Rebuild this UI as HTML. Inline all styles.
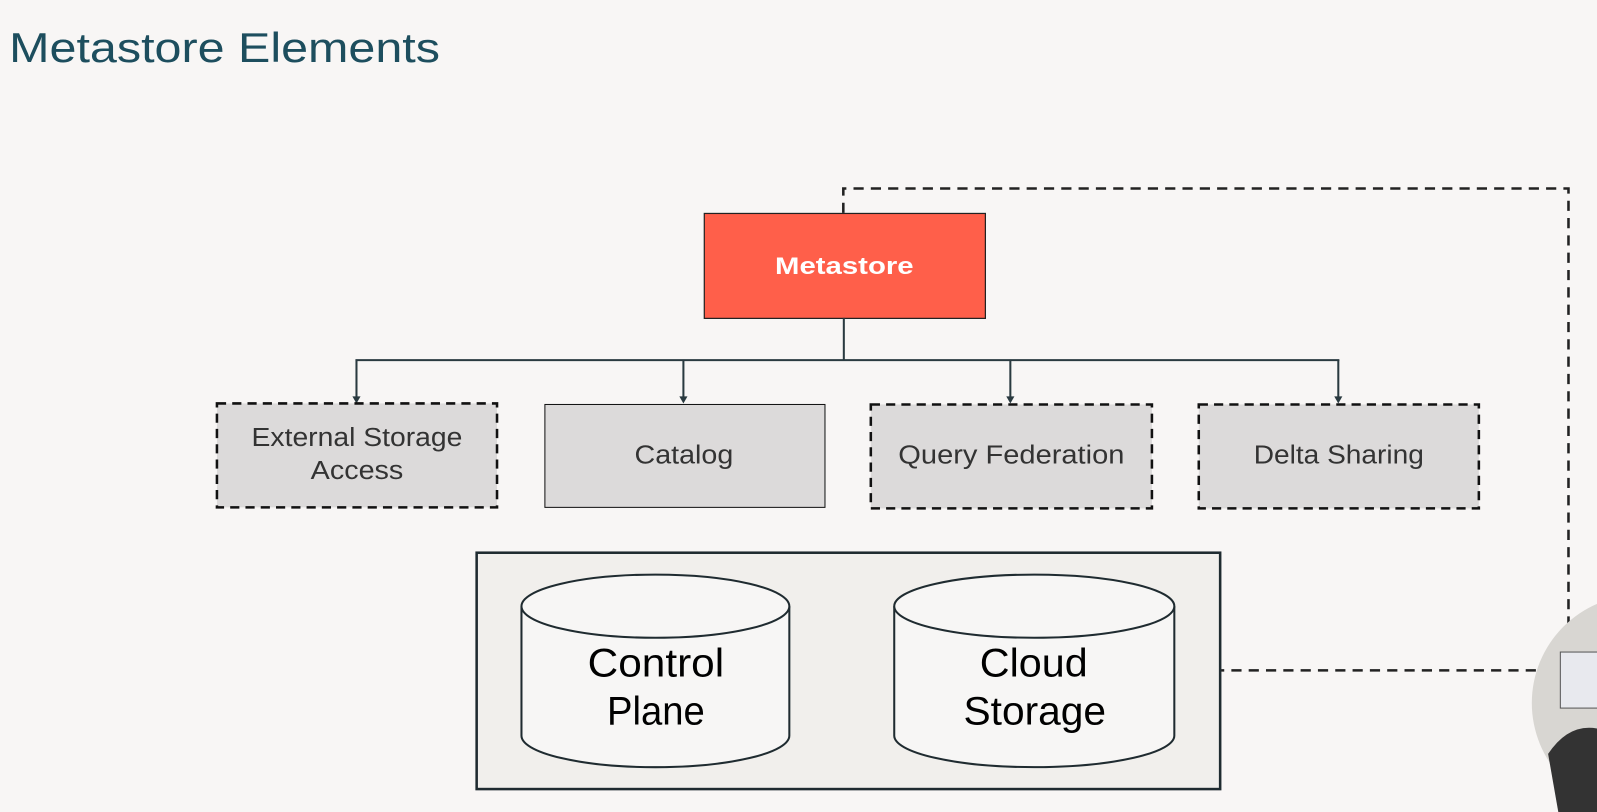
<!DOCTYPE html>
<html><head><meta charset="utf-8"><style>
html,body{margin:0;padding:0;background:#f8f6f5;}
svg{display:block}
</style></head><body>
<svg width="1597" height="812" viewBox="0 0 1568 797" preserveAspectRatio="none" xmlns="http://www.w3.org/2000/svg" font-family="'Liberation Sans', sans-serif">
<rect width="1568" height="797" fill="#f8f6f5"/>
<text x="9" y="61" font-size="41" fill="#1d4e5e" textLength="423" lengthAdjust="spacingAndGlyphs">Metastore Elements</text>
<polyline points="828,209 828,185 1540,185 1540,658 1199,658" fill="none" stroke="#222" stroke-width="2.5" stroke-dasharray="10,7"/>
<rect x="691.5" y="209.5" width="276" height="103" fill="#ff5f4a" stroke="#222" stroke-width="1.2"/>
<text x="761" y="269" font-size="24" font-weight="bold" fill="#fff" textLength="136" lengthAdjust="spacingAndGlyphs">Metastore</text>
<g stroke="#2a3a40" stroke-width="2" fill="none">
<line x1="828.5" y1="312" x2="828.5" y2="353.5"/>
<line x1="349" y1="353.5" x2="1315" y2="353.5"/>
<line x1="350" y1="353" x2="350" y2="390"/>
<line x1="671" y1="353" x2="671" y2="390"/>
<line x1="992" y1="353" x2="992" y2="390"/>
<line x1="1314" y1="353" x2="1314" y2="390"/>
</g>
<g fill="#2a3a40">
<polygon points="346,389 354,389 350,396"/>
<polygon points="667,389 675,389 671,396"/>
<polygon points="988,389 996,389 992,396"/>
<polygon points="1310,389 1318,389 1314,396"/>
</g>
<g fill="#dcdada" stroke="#111">
<rect x="213" y="396" width="275" height="102" stroke-width="2.5" stroke-dasharray="9,6"/>
<rect x="535" y="397" width="275" height="101" stroke-width="1"/>
<rect x="855" y="397" width="276" height="102" stroke-width="2.5" stroke-dasharray="9,6"/>
<rect x="1177" y="397" width="275" height="102" stroke-width="2.5" stroke-dasharray="9,6"/>
</g>
<g font-size="25" fill="#333">
<text x="247" y="438" textLength="207" lengthAdjust="spacingAndGlyphs">External Storage</text>
<text x="305" y="470" textLength="91" lengthAdjust="spacingAndGlyphs">Access</text>
<text x="623" y="455" textLength="97" lengthAdjust="spacingAndGlyphs">Catalog</text>
<text x="882" y="455" textLength="222" lengthAdjust="spacingAndGlyphs">Query Federation</text>
<text x="1231" y="455" textLength="167" lengthAdjust="spacingAndGlyphs">Delta Sharing</text>
</g>
<rect x="468" y="542.5" width="730" height="232" fill="#f1efec" stroke="#1f2b30" stroke-width="2.5"/>
<g fill="#f7f6f5" stroke="#1f2b30" stroke-width="2">
<path d="M512,595 L512,722 A131.5,31 0 0 0 775,722 L775,595"/>
<ellipse cx="643.5" cy="595" rx="131.5" ry="31"/>
<path d="M878,595 L878,722 A137.5,31 0 0 0 1153,722 L1153,595"/>
<ellipse cx="1015.5" cy="595" rx="137.5" ry="31"/>
</g>
<g font-size="39" fill="#000">
<text x="577" y="664" textLength="134" lengthAdjust="spacingAndGlyphs">Control</text>
<text x="596" y="711" textLength="96" lengthAdjust="spacingAndGlyphs">Plane</text>
<text x="962" y="664" textLength="106" lengthAdjust="spacingAndGlyphs">Cloud</text>
<text x="946" y="711" textLength="140" lengthAdjust="spacingAndGlyphs">Storage</text>
</g>
<circle cx="1610" cy="690" r="106" fill="#d8d6d2"/>
<rect x="1532" y="640" width="40" height="55" fill="#e8e9ee" stroke="#555" stroke-width="1"/>
<path d="M1520,740 Q1540,710 1568,715 L1568,797 L1530,797 Z" fill="#333"/>
</svg>
</body></html>
